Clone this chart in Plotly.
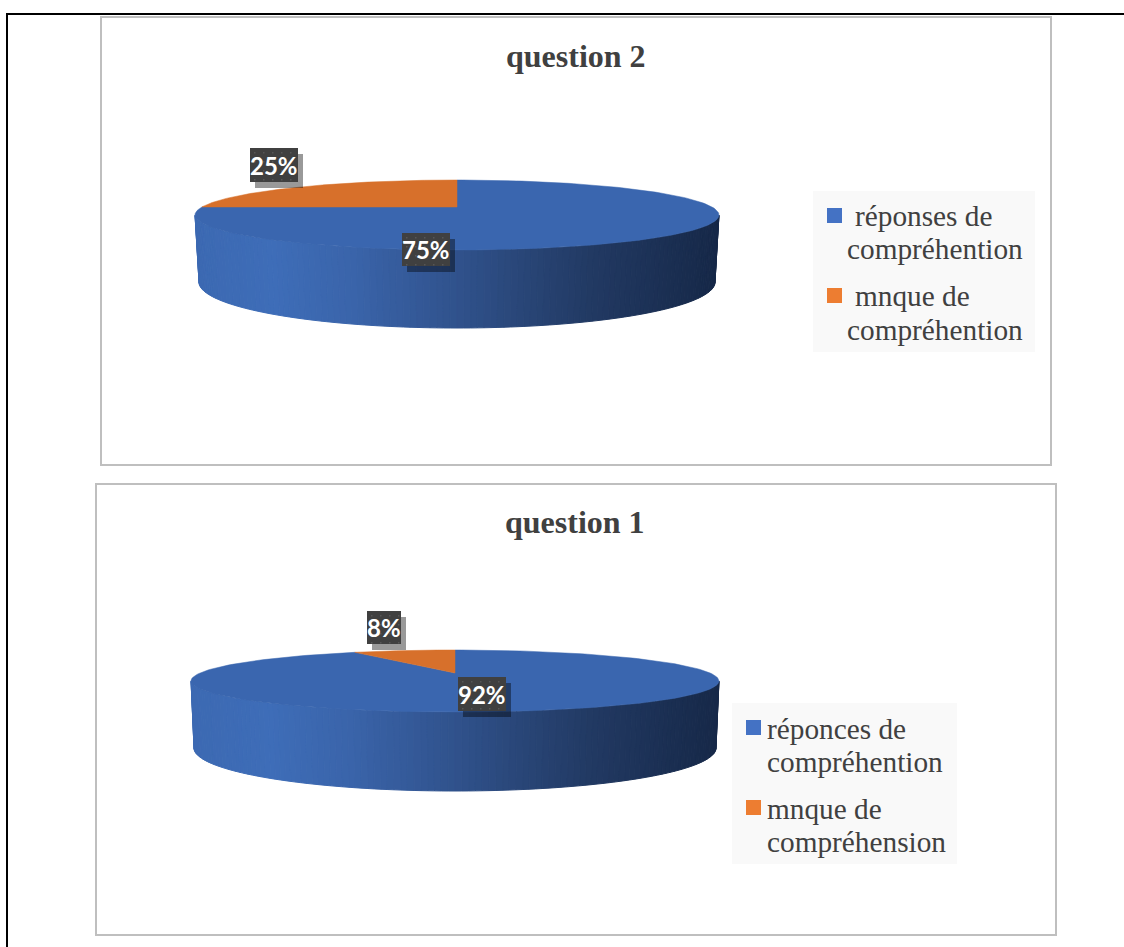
import numpy as np
import plotly.graph_objects as go

# ---- data ----
titles = ["question 2", "question 1"]
q2_shares = [75, 25]
q1_shares = [92, 8]
q2_legend = [["réponses de", "compréhention"], ["mnque de", "compréhention"]]
q1_legend = [["réponces de", "compréhention"], ["mnque de", "compréhension"]]

# ---- style / layout ----
W, H = 1124, 947
BLUE_TOP, ORANGE_TOP = "#3A66AF", "#D7702B"
BLUE_KEY, ORANGE_KEY = "#4472C4", "#ED7D31"
TXT = "#404040"
STOPS = [(0.0, (60, 105, 178)), (0.15, (62, 109, 184)), (0.3, (58, 100, 170)), (0.5, (48, 82, 140)),
         (0.75, (34, 58, 100)), (1.0, (22, 40, 72))]

CHARTS = [
    dict(title=titles[0], shares=q2_shares, legend=q2_legend,
         frame=(101, 17, 1051, 465), title_xy=(576, 56),
         cx=457, top=180, bottom=250, apex=207, rx=262,
         wall_cy=282, wall_ry=46, wall_rx=258,
         label_major=(402, 233, 450, 266), label_minor=(250, 148, 298, 182),
         leg_box=(813, 191, 1035, 352), swatch_x=827, swatch_y=(208, 288),
         text_x=[(853, 845), (853, 845)], text_y=[(216, 249), (296, 330)]),
    dict(title=titles[1], shares=q1_shares, legend=q1_legend,
         frame=(96, 484, 1056, 935), title_xy=(575, 522),
         cx=455, top=650, bottom=712, apex=673, rx=264,
         wall_cy=748, wall_ry=43, wall_rx=261,
         label_major=(458, 677, 506, 711), label_minor=(367, 611, 401, 644),
         leg_box=(732, 703, 957, 864), swatch_x=746, swatch_y=(720, 800),
         text_x=[(765, 765), (765, 765)], text_y=[(729, 762), (809, 842)]),
]


def projector(c):
    """Perspective mapping of a unit disc on the tilted top face of the pie."""
    top, bot, mid = c["top"], c["bottom"], c["apex"]
    q = (top + bot - 2 * mid) / (bot - top)
    a = top * (1 + q) - mid
    radius = c["rx"] * np.sqrt(1 - q * q)

    def project(phi, r=1.0):
        s, d = r * np.sin(phi), r * np.cos(phi)
        den = q * d + 1
        return c["cx"] + radius * s / den, (a * d + mid) / den

    return project


def shade(t):
    for (t0, c0), (t1, c1) in zip(STOPS, STOPS[1:]):
        if t <= t1:
            f = (t - t0) / (t1 - t0)
            return "rgb(%d,%d,%d)" % tuple(round(u + f * (v - u)) for u, v in zip(c0, c1))
    return "rgb(%d,%d,%d)" % STOPS[-1][1]


fig = go.Figure()
shapes, notes = [], []


def rect(box, fill, line=None, width=0):
    shapes.append(dict(type="rect", xref="x", yref="y", x0=box[0], y0=box[1], x1=box[2], y1=box[3],
                       fillcolor=fill, line=dict(color=line or fill, width=width), layer="above"))


def note(x, y, text, size, color, family, bold=False, anchor="left"):
    notes.append(dict(x=x, y=y, xref="x", yref="y", text=f"<b>{text}</b>" if bold else text, showarrow=False,
                      xanchor=anchor, yanchor="middle", font=dict(size=size, color=color, family=family)))


for c in CHARTS:
    # wall of the disc, drawn as narrow strips that carry the horizontal gradient
    cy = (c["top"] + c["bottom"]) / 2
    ry = (c["bottom"] - c["top"]) / 2
    edges = np.sin(np.linspace(-np.pi / 2, np.pi / 2, 121))
    for u0, u1 in zip(edges[:-1], edges[1:]):
        us = np.array([u0, u1])
        xt = c["cx"] + c["rx"] * us
        yt = cy + ry * np.sqrt(np.clip(1 - us ** 2, 0, 1))
        xb = c["cx"] + c["wall_rx"] * us
        yb = c["wall_cy"] + c["wall_ry"] * np.sqrt(np.clip(1 - us ** 2, 0, 1))
        col = shade((xt.mean() - (c["cx"] - c["rx"])) / (2 * c["rx"]))
        fig.add_trace(go.Scatter(x=[xt[0], xt[1], xb[1], xb[0], xt[0]], y=[yt[0], yt[1], yb[1], yb[0], yt[0]],
                                 mode="lines", fill="toself", fillcolor=col, line=dict(color=col, width=1),
                                 hoverinfo="skip", showlegend=False))

    # top face: wedges clockwise from twelve o'clock, sized from the shares
    project = projector(c)
    total = sum(c["shares"])
    start = 0.0
    for share, colour in zip(c["shares"], (BLUE_TOP, ORANGE_TOP)):
        end = start + share / total * 2 * np.pi
        phi = np.linspace(start, end, 181)
        ex, ey = project(phi)
        ax, ay = project(np.array([0.0]), 0.0)
        fig.add_trace(go.Scatter(x=np.r_[ax, ex, ax], y=np.r_[ay, ey, ay], mode="lines", fill="toself",
                                 fillcolor=colour, line=dict(color=colour, width=0.5),
                                 hoverinfo="skip", showlegend=False))
        start = end

    # frame, title
    rect(c["frame"], "rgba(0,0,0,0)", "#BFBFBF", 2)
    note(c["title_xy"][0], c["title_xy"][1], c["title"], 32, TXT, "Liberation Serif", True, "center")

    # data labels: dark box with a soft offset shadow and a faint dot texture
    for box, share in zip((c["label_major"], c["label_minor"]), c["shares"]):
        rect((box[0] + 5, box[1] + 6, box[2] + 5, box[3] + 6), "rgba(0,0,0,0.4)")
        rect(box, "#404040")
        for dx in range(box[0] + 4, box[2] - 1, 9):
            for dy in (box[1] + 4, box[1] + 13, box[1] + 22, box[1] + 31):
                if dy < box[3]:
                    rect((dx, dy, dx + 1.5, dy + 1.5), "#565656")
        note((box[0] + box[2]) / 2, (box[1] + box[3]) / 2, f"{share}%", 24, "white", "Lato", True, "center")

    # legend
    rect(c["leg_box"], "#F9F9F9")
    for sy, colour, lines, xs, ys in zip(c["swatch_y"], (BLUE_KEY, ORANGE_KEY), c["legend"], c["text_x"], c["text_y"]):
        rect((c["swatch_x"], sy, c["swatch_x"] + 15, sy + 15), colour)
        for line, lx, ly in zip(lines, xs, ys):
            note(lx, ly, line, 29.3, TXT, "Liberation Serif")

# outer page rule: left and top edges only
shapes.append(dict(type="path", path=f"M 7 {H} L 7 14 L {W} 14", xref="x", yref="y",
                   line=dict(color="black", width=2), layer="above"))

fig.update_layout(
    width=W, height=H, margin=dict(l=0, r=0, t=0, b=0), autosize=False,
    paper_bgcolor="white", plot_bgcolor="white", showlegend=False,
    xaxis=dict(range=[0, W], visible=False, fixedrange=True),
    yaxis=dict(range=[H, 0], visible=False, fixedrange=True),
    shapes=shapes, annotations=notes,
)
fig.write_html("out.html", config={"displayModeBar": False},
               post_script="document.body.style.margin='0';document.body.style.overflow='hidden';")
